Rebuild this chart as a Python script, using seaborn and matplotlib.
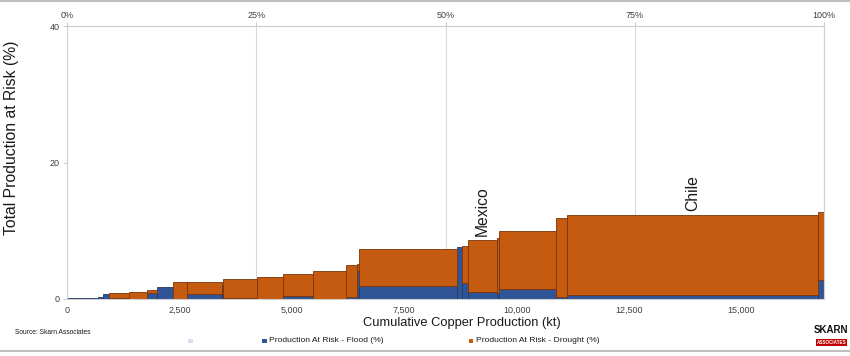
import numpy as np
import pandas as pd
import seaborn as sns
import matplotlib
matplotlib.use("Agg")
import matplotlib.pyplot as plt
from matplotlib.patches import Rectangle
from matplotlib.lines import Line2D

# ---- data ----
production_kt = [696, 98, 147, 445, 400, 222, 356, 311, 765, 36, 743, 578, 667,
                 734, 245, 44, 2193, 98, 133, 645, 51, 1261, 258, 5569, 140]
flood_pct = [0.2, 0.35, 0.7, 0.2, 0.0, 0.83, 1.8, 0.0, 0.7, 2.0, 0.1, 0.0, 0.45,
             0.0, 0.3, 4.1, 1.9, 7.6, 2.35, 1.07, 0.9, 1.4, 0.25, 0.54, 2.8]
drought_pct = [0.0, 0.0, 0.0, 0.63, 1.0, 0.47, 0.0, 2.45, 1.85, 0.0, 2.8, 3.2, 3.2,
               4.15, 4.7, 1.0, 5.4, 0.0, 5.45, 7.58, 8.0, 8.6, 11.55, 11.76, 10.0]
country = [""] * 19 + ["Mexico", "", "", "", "Chile", ""]
x_ticks = [0, 2500, 5000, 7500, 10000, 12500, 15000]
y_ticks = [0, 20, 40]
pct_ticks = [0, 25, 50, 75, 100]
series_names = ["Production At Risk - Flood (%)", "Production At Risk - Drought (%)"]

FLOOD = "#2F5597"
DROUGHT = "#C55A11"

edges = np.concatenate([[0], np.cumsum(production_kt)])
mids = (edges[:-1] + edges[1:]) / 2
total_kt = float(edges[-1])

df = pd.DataFrame({
    "mid": np.concatenate([mids, mids]),
    "value": np.concatenate([flood_pct, drought_pct]),
    "series": [series_names[0]] * len(mids) + [series_names[1]] * len(mids),
})

sns.set_style("white")
plt.rcParams["font.family"] = ["Liberation Sans", "DejaVu Sans"]

fig = plt.figure(figsize=(8.5, 3.56), dpi=100)
ax = fig.add_axes([67 / 850, 1 - 299 / 356, (824 - 67) / 850, (299 - 26) / 356])

# seaborn stacks the first hue level on top, so drought goes first
sns.histplot(data=df, x="mid", weights="value", hue="series",
             hue_order=[series_names[1], series_names[0]], multiple="stack",
             bins=[float(e) for e in edges],
             palette={series_names[0]: FLOOD, series_names[1]: DROUGHT},
             alpha=1, linewidth=0.6, legend=False, ax=ax)

flood_rgba = matplotlib.colors.to_rgba(FLOOD)
for p in ax.patches:
    fc = p.get_facecolor()
    if abs(fc[0] - flood_rgba[0]) < 0.02 and abs(fc[2] - flood_rgba[2]) < 0.02:
        p.set_edgecolor("#1F3864")
    else:
        p.set_edgecolor("#7A3508")
    if p.get_height() <= 1e-9:
        p.set_linewidth(0)

ax.set_xlim(0, total_kt)
ax.set_ylim(0, 40)
ax.set_xticks(x_ticks)
ax.set_xticklabels([f"{t:,}" for t in x_ticks], fontsize=6.5, color="#404040")
ax.set_yticks(y_ticks)
ax.set_yticklabels([str(t) for t in y_ticks], fontsize=6.5, color="#404040")
ax.tick_params(axis="x", length=0, pad=5)
ax.tick_params(axis="y", length=3, width=0.6, color="#bfbfbf", left=True, pad=2)

# percentage gridlines (minor ticks) behind bars
ax.set_xticks(total_kt * np.array(pct_ticks[1:]) / 100, minor=True)
ax.tick_params(axis="x", which="minor", length=0)
ax.grid(which="minor", axis="x", color="#d9d9d9", linewidth=0.8)
ax.grid(which="major", axis="both", visible=False)
ax.set_axisbelow(True)

for s in ax.spines.values():
    s.set_color("#cfcfcf")
    s.set_linewidth(0.8)

sec = ax.secondary_xaxis("top", functions=(lambda x: x / total_kt * 100,
                                           lambda p: p * total_kt / 100))
sec.set_xticks(pct_ticks)
sec.set_xticklabels([f"{t}%" for t in pct_ticks], fontsize=6.5, color="#404040")
sec.tick_params(length=3, width=0.6, color="#bfbfbf", pad=1.5)
sec.spines["top"].set_color("#cfcfcf")

ax.set_xlabel("Cumulative Copper Production (kt)", fontsize=9.3, color="#1a1a1a")
ax.xaxis.set_label_coords((461.5 - 67) / 757, (299 - 317) / 273)
ax.set_ylabel("Total Production at Risk (%)", fontsize=11.3, color="#1a1a1a")
ax.yaxis.set_label_coords((19 - 67) / 757, (299 - 138) / 273)

for m, f, d, c in zip(mids, flood_pct, drought_pct, country):
    if c:
        ax.text(m, f + d + 0.6, c, rotation=90, ha="center", va="bottom",
                fontsize=11.3, color="#1a1a1a")

# footer
fig.text(15 / 850, 1 - 333 / 356, "Source: Skarn Associates", fontsize=4.8,
         color="#1a1a1a", va="center", ha="left")

def legend_item(x, color, label):
    fig.patches.append(Rectangle((x / 850, 1 - 343 / 356), 4.5 / 850, 4.5 / 356,
                                 transform=fig.transFigure, facecolor=color,
                                 edgecolor="none"))
    if label:
        fig.text((x + 7) / 850, 1 - 340.5 / 356, label, fontsize=6.1,
                 color="#1a1a1a", va="center", ha="left")

legend_item(188, "#DADDEE", "")
legend_item(262, FLOOD, series_names[0])
legend_item(469, DROUGHT, series_names[1])

# logo
fig.text(831 / 850, 1 - 330 / 356, "SKARN", fontsize=7, fontweight="bold",
         color="#111111", ha="center", va="center")
fig.patches.append(Rectangle((816 / 850, 1 - 346 / 356), 31 / 850, 7 / 356,
                             transform=fig.transFigure, facecolor="#C00000",
                             edgecolor="none"))
fig.text(831.5 / 850, 1 - 342.5 / 356, "ASSOCIATES", fontsize=3.3, fontweight="bold",
         color="white", ha="center", va="center")

# frame lines
fig.add_artist(Line2D([0, 1], [1 - 1 / 356, 1 - 1 / 356], transform=fig.transFigure,
                      color="#bfbfbf", linewidth=1.5))
fig.add_artist(Line2D([0, 1], [1 - 351 / 356, 1 - 351 / 356], transform=fig.transFigure,
                      color="#bfbfbf", linewidth=1.5))

fig.savefig("out.png", dpi=100)
